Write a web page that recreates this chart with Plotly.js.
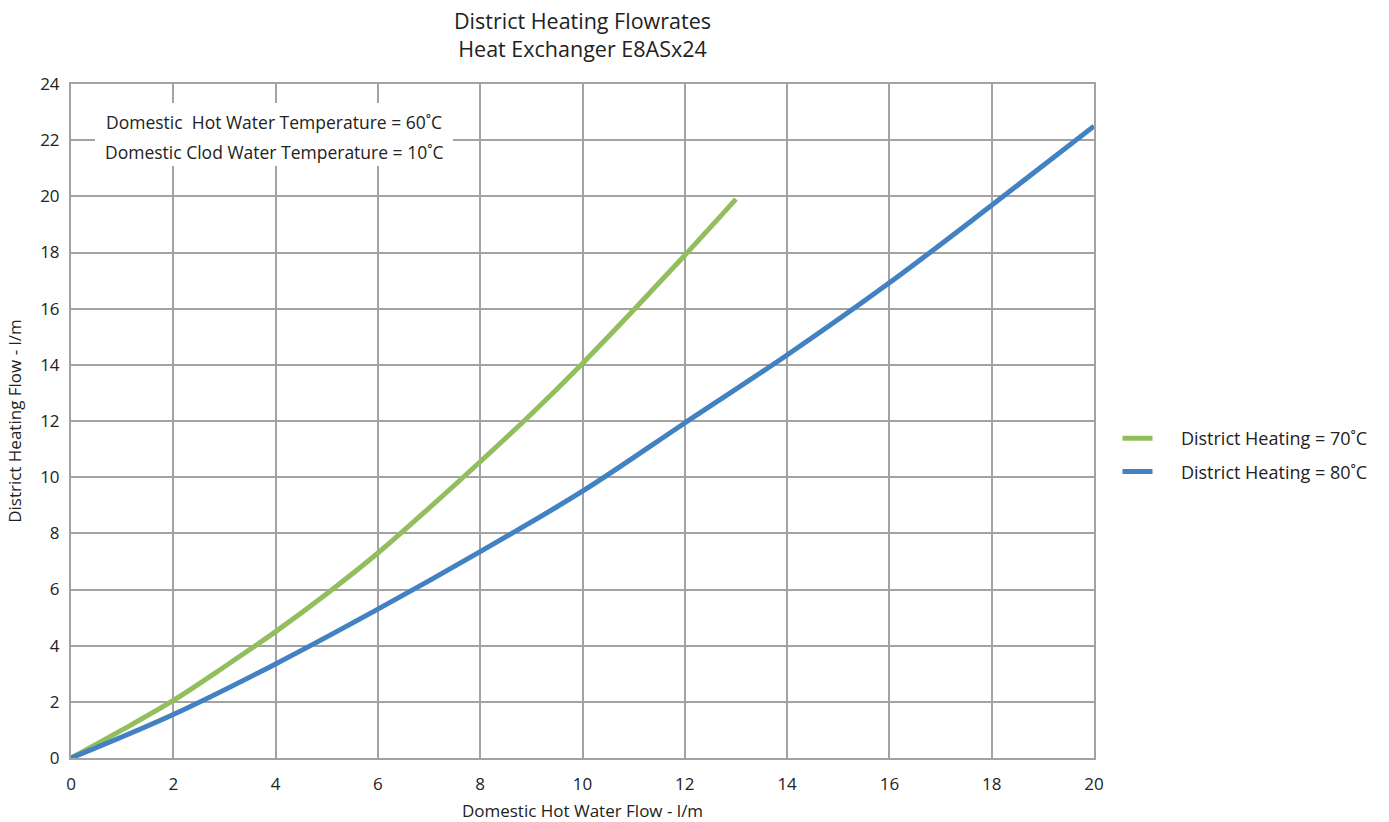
<!DOCTYPE html>
<html>
<head>
<meta charset="utf-8">
<script src="https://cdn.plot.ly/plotly-3.0.1.min.js"></script>
<style>html,body{margin:0;padding:0;background:#fff;}#chart{width:1389px;height:822px;}</style>
</head>
<body>
<div id="chart"></div>
<script>
const flow70 = [0, 1, 2, 3, 4, 5, 6, 7, 8, 9, 10, 11, 12, 13];
const dh70 = [0, 1.0, 2.05, 3.25, 4.5, 5.85, 7.3, 8.9, 10.55, 12.25, 14.05, 15.95, 17.9, 19.9];
const flow80 = [0, 2, 4, 6, 8, 10, 12, 14, 16, 18, 20];
const dh80 = [0, 1.55, 3.35, 5.3, 7.35, 9.5, 11.93, 14.35, 16.92, 19.68, 22.5];
const seriesNames = ['\u00a0\u00a0\u00a0\u00a0\u00a0District Heating = 70˚C', '\u00a0\u00a0\u00a0\u00a0\u00a0District Heating = 80˚C'];
const xTicks = [0, 2, 4, 6, 8, 10, 12, 14, 16, 18, 20];
const yTicks = [0, 2, 4, 6, 8, 10, 12, 14, 16, 18, 20, 22, 24];
const titleLines = ['District Heating Flowrates', 'Heat Exchanger E8ASx24'];
const noteLines = ['Domestic  Hot Water Temperature = 60˚C', 'Domestic Clod Water Temperature = 10˚C'];

const font = 'Open Sans, Noto Sans, sans-serif';
const gridColor = '#A3A3A3';
const txt = '#222';

const traces = [
  {x: flow70, y: dh70, name: seriesNames[0], legendgroup: 'a', mode: 'lines', line: {color: '#92BE5E', width: 5, shape: 'spline'}},
  {x: flow80, y: dh80, name: seriesNames[1], legendgroup: 'b', mode: 'lines', line: {color: '#4281C2', width: 5, shape: 'spline'}}
];

// plot area: x 71..1094, y 84..758 (pixels)
const px = v => (v - 71) / (1094 - 71);
const py = v => (758 - v) / (758 - 84);

const layout = {
  width: 1389, height: 822,
  margin: {l: 71, r: 295, t: 84, b: 64},
  paper_bgcolor: '#fff', plot_bgcolor: '#fff',
  font: {family: font, color: txt, size: 16},
  title: {text: titleLines.join('<br>'), xref: 'paper', x: 0.5, xanchor: 'center', yref: 'container', y: 1 - 29 / 822, yanchor: 'middle', font: {size: 21.5, color: txt}},
  xaxis: {
    range: [0, 20], tickvals: xTicks, ticktext: xTicks.map(String),
    showgrid: true, gridcolor: gridColor, gridwidth: 2,
    showline: true, linecolor: gridColor, linewidth: 2, mirror: true,
    zeroline: false, ticks: '', ticklabelstandoff: 10, tickfont: {size: 17, color: txt},
    title: {text: 'Domestic Hot Water Flow - l/m', font: {size: 17, color: txt}, standoff: 14}
  },
  yaxis: {
    range: [0, 24], tickvals: yTicks, ticktext: yTicks.map(String),
    showgrid: true, gridcolor: gridColor, gridwidth: 2,
    showline: true, linecolor: gridColor, linewidth: 2, mirror: true,
    zeroline: false, ticks: '', ticklabelstandoff: 6, tickfont: {size: 17, color: txt},
    title: {text: 'District Heating Flow - l/m', font: {size: 17, color: txt}, standoff: 14}
  },
  legend: {x: px(1117.5), xanchor: 'left', y: py(455), yanchor: 'middle', font: {size: 18, color: txt}, bgcolor: 'rgba(0,0,0,0)', tracegroupgap: 7},
  showlegend: true,
  annotations: [
    {xref: 'paper', yref: 'paper', x: px(95), y: py(103), xanchor: 'left', yanchor: 'top',
     text: '\u00a0', showarrow: false, bgcolor: '#fff', width: 358, height: 63, borderpad: 0, borderwidth: 0, font: {size: 10}},
    {xref: 'paper', yref: 'paper', x: px(274), y: py(122), xanchor: 'center', yanchor: 'middle',
     text: noteLines[0], showarrow: false, font: {size: 17.5, color: txt}},
    {xref: 'paper', yref: 'paper', x: px(274), y: py(152), xanchor: 'center', yanchor: 'middle',
     text: noteLines[1], showarrow: false, font: {size: 17.5, color: txt}}
  ]
};

Plotly.newPlot('chart', traces, layout, {displayModeBar: false, staticPlot: true});
</script>
</body>
</html>
